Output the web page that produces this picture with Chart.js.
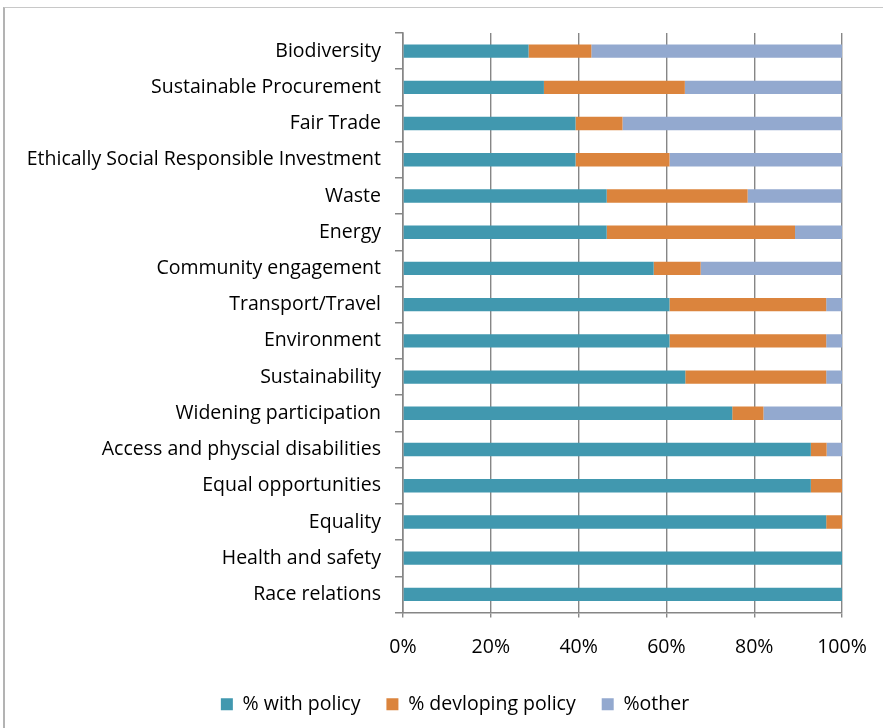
<!DOCTYPE html>
<html>
<head>
<meta charset="utf-8">
<script src="https://cdn.jsdelivr.net/npm/chart.js@4/dist/chart.umd.min.js"></script>
<style>
  html, body { margin: 0; padding: 0; background: #fff; }
  #wrap { position: relative; width: 883px; height: 728px; overflow: hidden; }
  #frame { position: absolute; left: 3px; top: 7px; width: 900px; height: 740px;
           border-left: 2px solid #b3b3b3; border-top: 1px solid #c8c8c8; }
  #chart { position: absolute; left: 0; top: 0; }
</style>
</head>
<body>
<div id="wrap">
  <div id="frame"></div>
  <canvas id="chart" width="883" height="728"></canvas>
</div>
<script>
// categories, top to bottom
const categories = [
    'Biodiversity',
    'Sustainable Procurement',
    'Fair Trade',
    'Ethically Social Responsible Investment',
    'Waste',
    'Energy',
    'Community engagement',
    'Transport/Travel',
    'Environment',
    'Sustainability',
    'Widening participation',
    'Access and physcial disabilities',
    'Equal opportunities',
    'Equality',
    'Health and safety',
    'Race relations'
];

// percentages
const withPolicy = [28.6, 32.1, 39.3, 39.3, 46.4, 46.4, 57.1, 60.7, 60.7, 64.3, 75.0, 92.9, 92.9, 96.4, 100, 100];
const developingPolicy = [14.3, 32.1, 10.7, 21.4, 32.1, 42.9, 10.7, 35.7, 35.7, 32.1, 7.1, 3.6, 7.1, 3.6, 0, 0];
const otherPolicy = [57.1, 35.7, 50.0, 39.3, 21.4, 10.7, 32.1, 3.6, 3.6, 3.6, 17.9, 3.6, 0, 0, 0, 0];

const seriesNames = ['% with policy', '% devloping policy', '%other'];
const xTicks = [0, 20, 40, 60, 80, 100];

const font = 'Open Sans';
const fontSize = 19.5;
const gridGrey = '#868686';

const barStyle = { barPercentage: 0.37, categoryPercentage: 1, borderWidth: 0 };

// nudge the legend a little right, the way Excel centres it
const legendShift = {
    id: 'legendShift',
    afterLayout(chart) {
        chart.legend.left += 34;
        chart.legend.right += 34;
    }
};

new Chart(document.getElementById('chart'), {
    type: 'bar',
    data: {
        labels: categories,
        datasets: [
            { label: seriesNames[0], data: withPolicy, backgroundColor: '#4198af', ...barStyle },
            { label: seriesNames[1], data: developingPolicy, backgroundColor: '#db843d', ...barStyle },
            { label: seriesNames[2], data: otherPolicy, backgroundColor: '#93a9cf', ...barStyle }
        ]
    },
    plugins: [legendShift],
    options: {
        indexAxis: 'y',
        responsive: false,
        animation: false,
        layout: { padding: { top: 33, right: 41, left: 0, bottom: 4 } },
        scales: {
            x: {
                stacked: true,
                min: 0,
                max: 100,
                afterBuildTicks: (scale) => { scale.ticks = xTicks.map(v => ({ value: v })); },
                afterFit: (scale) => {
                    scale.height = 56;
                    scale.paddingLeft = 0;
                    scale.paddingRight = 0;
                },
                ticks: {
                    callback: (v) => v + '%',
                    color: '#000',
                    font: { family: font, size: fontSize },
                    padding: 18,
                    maxRotation: 0
                },
                grid: { color: gridGrey, lineWidth: 1.4, tickLength: 5 },
                border: { color: gridGrey, width: 1.6 }
            },
            y: {
                stacked: true,
                afterFit: (scale) => { scale.width = 403; },
                ticks: {
                    color: '#000',
                    font: { family: font, size: fontSize },
                    padding: 14,
                    autoSkip: false
                },
                grid: { drawOnChartArea: false, color: gridGrey, tickLength: 8, lineWidth: 1.5, offset: true },
                border: { color: gridGrey, width: 1.6 }
            }
        },
        plugins: {
            legend: {
                position: 'bottom',
                labels: {
                    boxWidth: 12,
                    boxHeight: 12,
                    padding: 26,
                    color: '#000',
                    font: { family: font, size: fontSize }
                }
            },
            tooltip: { enabled: false }
        }
    }
});
</script>
</body>
</html>
